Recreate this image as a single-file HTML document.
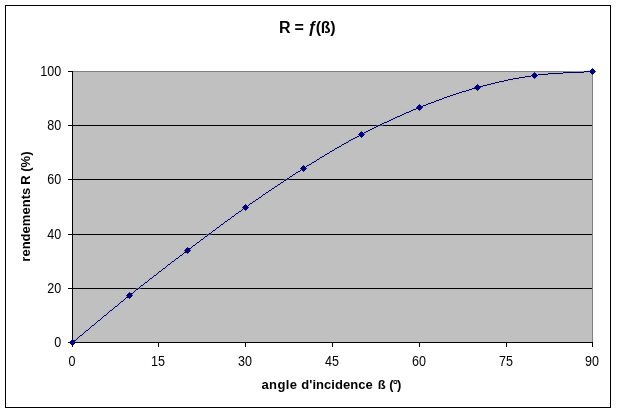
<!DOCTYPE html>
<html><head><meta charset="utf-8"><title>R = f(ß)</title>
<style>
html,body{margin:0;padding:0;background:#fff;}
body{width:617px;height:413px;overflow:hidden;font-family:"Liberation Sans",sans-serif;}
svg{display:block;will-change:transform;}
text{font-family:"Liberation Sans",sans-serif;fill:#000;}
.t{font-size:14.1px;}
.b{font-size:13px;font-weight:bold;}
</style></head><body>
<svg width="617" height="413" viewBox="0 0 617 413">
<rect x="0" y="0" width="617" height="413" fill="#fff"/>
<rect x="5.5" y="5.5" width="605" height="402" fill="#fff" stroke="#000" stroke-width="1" shape-rendering="crispEdges"/>
<rect x="72.5" y="71.5" width="520" height="271" fill="#c0c0c0" stroke="#808080" stroke-width="1" shape-rendering="crispEdges"/>
<g stroke="#000" stroke-width="1" shape-rendering="crispEdges">
<line x1="68" y1="342.5" x2="73" y2="342.5"/>
<line x1="72" y1="288.5" x2="592" y2="288.5"/>
<line x1="68" y1="288.5" x2="73" y2="288.5"/>
<line x1="72" y1="234.5" x2="592" y2="234.5"/>
<line x1="68" y1="234.5" x2="73" y2="234.5"/>
<line x1="72" y1="179.5" x2="592" y2="179.5"/>
<line x1="68" y1="179.5" x2="73" y2="179.5"/>
<line x1="72" y1="125.5" x2="592" y2="125.5"/>
<line x1="68" y1="125.5" x2="73" y2="125.5"/>
<line x1="68" y1="71.5" x2="73" y2="71.5"/>
<line x1="72.5" y1="71" x2="72.5" y2="343"/>
<line x1="72" y1="342.5" x2="593" y2="342.5"/>
<line x1="72.5" y1="342" x2="72.5" y2="347"/>
<line x1="158.5" y1="342" x2="158.5" y2="347"/>
<line x1="245.5" y1="342" x2="245.5" y2="347"/>
<line x1="332.5" y1="342" x2="332.5" y2="347"/>
<line x1="419.5" y1="342" x2="419.5" y2="347"/>
<line x1="506.5" y1="342" x2="506.5" y2="347"/>
<line x1="592.5" y1="342" x2="592.5" y2="347"/>
</g>
<path d="M72.5 342.5C91.50 326.83 110.33 310.83 129.5 295.5C148.67 280.17 168.17 265.17 187.5 250.5C206.83 235.83 226.17 221.17 245.5 207.5C264.83 193.83 284.17 180.67 303.5 168.5C322.83 156.33 342.17 144.67 361.5 134.5C380.83 124.33 400.17 115.33 419.5 107.5C438.83 99.67 458.33 92.83 477.5 87.5C496.67 82.17 515.33 78.17 534.5 75.5C553.67 72.83 573.17 72.83 592.5 71.5" fill="none" stroke="#b0b0e0" stroke-opacity="0.45" stroke-width="3"/>
<g fill="#04044c" shape-rendering="crispEdges">
<path d="M72 342h1v1h-1zM73 341h1v1h-1zM74 340h2v1h-2zM76 339h1v1h-1zM77 338h1v1h-1zM78 337h1v1h-1zM79 336h1v1h-1zM80 335h2v1h-2zM82 334h1v1h-1zM83 333h1v1h-1zM84 332h1v1h-1zM85 331h1v1h-1zM86 330h2v1h-2zM88 329h1v1h-1zM89 328h1v1h-1zM90 327h1v1h-1zM91 326h1v1h-1zM92 325h2v1h-2zM94 324h1v1h-1zM95 323h1v1h-1zM96 322h1v1h-1zM97 321h1v1h-1zM98 320h2v1h-2zM100 319h1v1h-1zM101 318h1v1h-1zM102 317h1v1h-1zM103 316h1v1h-1zM104 315h2v1h-2zM106 314h1v1h-1zM107 313h1v1h-1zM108 312h1v1h-1zM109 311h1v1h-1zM110 310h2v1h-2zM112 309h1v1h-1zM113 308h1v1h-1zM114 307h1v1h-1zM115 306h2v1h-2zM117 305h1v1h-1zM118 304h1v1h-1zM119 303h1v1h-1zM120 302h1v1h-1zM121 301h2v1h-2zM123 300h1v1h-1zM124 299h1v1h-1zM125 298h1v1h-1zM126 297h2v1h-2zM128 296h1v1h-1zM129 295h1v1h-1zM130 294h1v1h-1zM131 293h2v1h-2zM133 292h1v1h-1zM134 291h1v1h-1zM135 290h1v1h-1zM136 289h2v1h-2zM138 288h1v1h-1zM139 287h1v1h-1zM140 286h1v1h-1zM141 285h2v1h-2zM143 284h1v1h-1zM144 283h1v1h-1zM145 282h2v1h-2zM147 281h1v1h-1zM148 280h1v1h-1zM149 279h1v1h-1zM150 278h2v1h-2zM152 277h1v1h-1zM153 276h1v1h-1zM154 275h2v1h-2zM156 274h1v1h-1zM157 273h1v1h-1zM158 272h1v1h-1zM159 271h2v1h-2zM161 270h1v1h-1zM162 269h1v1h-1zM163 268h2v1h-2zM165 267h1v1h-1zM166 266h1v1h-1zM167 265h1v1h-1zM168 264h2v1h-2zM170 263h1v1h-1zM171 262h1v1h-1zM172 261h2v1h-2zM174 260h1v1h-1zM175 259h1v1h-1zM176 258h2v1h-2zM178 257h1v1h-1zM179 256h1v1h-1zM180 255h2v1h-2zM182 254h1v1h-1zM183 253h1v1h-1zM184 252h2v1h-2zM186 251h1v1h-1zM187 250h1v1h-1zM188 249h1v1h-1zM189 248h2v1h-2zM191 247h1v1h-1zM192 246h1v1h-1zM193 245h2v1h-2zM195 244h1v1h-1zM196 243h1v1h-1zM197 242h2v1h-2zM199 241h1v1h-1zM200 240h1v1h-1zM201 239h2v1h-2zM203 238h1v1h-1zM204 237h1v1h-1zM205 236h2v1h-2zM207 235h1v1h-1zM208 234h1v1h-1zM209 233h2v1h-2zM211 232h1v1h-1zM212 231h1v1h-1zM213 230h2v1h-2zM215 229h1v1h-1zM216 228h1v1h-1zM217 227h2v1h-2zM219 226h1v1h-1zM220 225h1v1h-1zM221 224h2v1h-2zM223 223h1v1h-1zM224 222h1v1h-1zM225 221h2v1h-2zM227 220h1v1h-1zM228 219h2v1h-2zM230 218h1v1h-1zM231 217h1v1h-1zM232 216h2v1h-2zM234 215h1v1h-1zM235 214h1v1h-1zM236 213h2v1h-2zM238 212h1v1h-1zM239 211h2v1h-2zM241 210h1v1h-1zM242 209h1v1h-1zM243 208h2v1h-2zM245 207h1v1h-1zM246 206h2v1h-2zM248 205h1v1h-1zM249 204h1v1h-1zM250 203h2v1h-2zM252 202h1v1h-1zM253 201h2v1h-2zM255 200h1v1h-1zM256 199h2v1h-2zM258 198h1v1h-1zM259 197h2v1h-2zM261 196h1v1h-1zM262 195h1v1h-1zM263 194h2v1h-2zM265 193h1v1h-1zM266 192h2v1h-2zM268 191h1v1h-1zM269 190h2v1h-2zM271 189h1v1h-1zM272 188h2v1h-2zM274 187h1v1h-1zM275 186h2v1h-2zM277 185h1v1h-1zM278 184h2v1h-2zM280 183h1v1h-1zM281 182h2v1h-2zM283 181h1v1h-1zM284 180h2v1h-2zM286 179h1v1h-1zM287 178h2v1h-2zM289 177h1v1h-1zM290 176h2v1h-2zM292 175h1v1h-1zM293 174h2v1h-2zM295 173h1v1h-1zM296 172h2v1h-2zM298 171h2v1h-2zM300 170h1v1h-1zM301 169h2v1h-2zM303 168h1v1h-1zM304 167h2v1h-2zM306 166h1v1h-1zM307 165h2v1h-2zM309 164h2v1h-2zM311 163h1v1h-1zM312 162h2v1h-2zM314 161h2v1h-2zM316 160h1v1h-1zM317 159h2v1h-2zM319 158h1v1h-1zM320 157h2v1h-2zM322 156h2v1h-2zM324 155h1v1h-1zM325 154h2v1h-2zM327 153h2v1h-2zM329 152h1v1h-1zM330 151h2v1h-2zM332 150h2v1h-2zM334 149h1v1h-1zM335 148h2v1h-2zM337 147h2v1h-2zM339 146h2v1h-2zM341 145h1v1h-1zM342 144h2v1h-2zM344 143h2v1h-2zM346 142h2v1h-2zM348 141h1v1h-1zM349 140h2v1h-2zM351 139h2v1h-2zM353 138h2v1h-2zM355 137h2v1h-2zM357 136h2v1h-2zM359 135h2v1h-2zM361 134h1v1h-1zM362 133h2v1h-2zM364 132h2v1h-2zM366 131h2v1h-2zM368 130h2v1h-2zM370 129h2v1h-2zM372 128h2v1h-2zM374 127h2v1h-2zM376 126h2v1h-2zM378 125h2v1h-2zM380 124h2v1h-2zM382 123h2v1h-2zM384 122h3v1h-3zM387 121h2v1h-2zM389 120h2v1h-2zM391 119h2v1h-2zM393 118h2v1h-2zM395 117h2v1h-2zM397 116h3v1h-3zM400 115h2v1h-2zM402 114h2v1h-2zM404 113h2v1h-2zM406 112h3v1h-3zM409 111h2v1h-2zM411 110h2v1h-2zM413 109h3v1h-3zM416 108h2v1h-2zM418 107h3v1h-3zM421 106h2v1h-2zM423 105h3v1h-3zM426 104h2v1h-2zM428 103h3v1h-3zM431 102h3v1h-3zM434 101h2v1h-2zM436 100h3v1h-3zM439 99h3v1h-3zM442 98h2v1h-2zM444 97h3v1h-3zM447 96h3v1h-3zM450 95h3v1h-3zM453 94h3v1h-3zM456 93h3v1h-3zM459 92h3v1h-3zM462 91h4v1h-4zM466 90h3v1h-3zM469 89h3v1h-3zM472 88h4v1h-4zM476 87h3v1h-3zM479 86h4v1h-4zM483 85h4v1h-4zM487 84h4v1h-4zM491 83h4v1h-4zM495 82h4v1h-4zM499 81h5v1h-5zM504 80h4v1h-4zM508 79h5v1h-5zM513 78h6v1h-6zM519 77h6v1h-6zM525 76h6v1h-6zM531 75h7v1h-7zM538 74h10v1h-10zM548 73h15v1h-15zM563 72h21v1h-21zM584 71h9v1h-9z"/>
</g>
<g fill="#000080" shape-rendering="crispEdges">
<path d="M71 340h3v1h-3zM70 341h5v1h-5zM70 342h5v1h-5zM70 343h5v1h-5zM71 344h3v1h-3z"/>
<path d="M69 342h1v1h-1zM75 342h1v1h-1zM72 339h1v1h-1zM72 345h1v1h-1z" fill-opacity="0.8"/>
<path d="M128 293h3v1h-3zM127 294h5v1h-5zM127 295h5v1h-5zM127 296h5v1h-5zM128 297h3v1h-3z"/>
<path d="M126 295h1v1h-1zM132 295h1v1h-1zM129 292h1v1h-1zM129 298h1v1h-1z" fill-opacity="0.8"/>
<path d="M186 248h3v1h-3zM185 249h5v1h-5zM185 250h5v1h-5zM185 251h5v1h-5zM186 252h3v1h-3z"/>
<path d="M184 250h1v1h-1zM190 250h1v1h-1zM187 247h1v1h-1zM187 253h1v1h-1z" fill-opacity="0.8"/>
<path d="M244 205h3v1h-3zM243 206h5v1h-5zM243 207h5v1h-5zM243 208h5v1h-5zM244 209h3v1h-3z"/>
<path d="M242 207h1v1h-1zM248 207h1v1h-1zM245 204h1v1h-1zM245 210h1v1h-1z" fill-opacity="0.8"/>
<path d="M302 166h3v1h-3zM301 167h5v1h-5zM301 168h5v1h-5zM301 169h5v1h-5zM302 170h3v1h-3z"/>
<path d="M300 168h1v1h-1zM306 168h1v1h-1zM303 165h1v1h-1zM303 171h1v1h-1z" fill-opacity="0.8"/>
<path d="M360 132h3v1h-3zM359 133h5v1h-5zM359 134h5v1h-5zM359 135h5v1h-5zM360 136h3v1h-3z"/>
<path d="M358 134h1v1h-1zM364 134h1v1h-1zM361 131h1v1h-1zM361 137h1v1h-1z" fill-opacity="0.8"/>
<path d="M418 105h3v1h-3zM417 106h5v1h-5zM417 107h5v1h-5zM417 108h5v1h-5zM418 109h3v1h-3z"/>
<path d="M416 107h1v1h-1zM422 107h1v1h-1zM419 104h1v1h-1zM419 110h1v1h-1z" fill-opacity="0.8"/>
<path d="M476 85h3v1h-3zM475 86h5v1h-5zM475 87h5v1h-5zM475 88h5v1h-5zM476 89h3v1h-3z"/>
<path d="M474 87h1v1h-1zM480 87h1v1h-1zM477 84h1v1h-1zM477 90h1v1h-1z" fill-opacity="0.8"/>
<path d="M533 73h3v1h-3zM532 74h5v1h-5zM532 75h5v1h-5zM532 76h5v1h-5zM533 77h3v1h-3z"/>
<path d="M531 75h1v1h-1zM537 75h1v1h-1zM534 72h1v1h-1zM534 78h1v1h-1z" fill-opacity="0.8"/>
<path d="M591 69h3v1h-3zM590 70h5v1h-5zM590 71h5v1h-5zM590 72h5v1h-5zM591 73h3v1h-3z"/>
<path d="M589 71h1v1h-1zM595 71h1v1h-1zM592 68h1v1h-1zM592 74h1v1h-1z" fill-opacity="0.8"/>
</g>
<text class="t" transform="translate(61.2,346.9) scale(0.89,1)" text-anchor="end">0</text>
<text class="t" transform="translate(61.2,292.9) scale(0.89,1)" text-anchor="end">20</text>
<text class="t" transform="translate(61.2,238.9) scale(0.89,1)" text-anchor="end">40</text>
<text class="t" transform="translate(61.2,183.9) scale(0.89,1)" text-anchor="end">60</text>
<text class="t" transform="translate(61.2,129.9) scale(0.89,1)" text-anchor="end">80</text>
<text class="t" transform="translate(61.2,75.9) scale(0.89,1)" text-anchor="end">100</text>
<text class="t" transform="translate(71.9,365.9) scale(0.89,1)" text-anchor="middle">0</text>
<text class="t" transform="translate(157.9,365.9) scale(0.89,1)" text-anchor="middle">15</text>
<text class="t" transform="translate(244.9,365.9) scale(0.89,1)" text-anchor="middle">30</text>
<text class="t" transform="translate(331.9,365.9) scale(0.89,1)" text-anchor="middle">45</text>
<text class="t" transform="translate(418.9,365.9) scale(0.89,1)" text-anchor="middle">60</text>
<text class="t" transform="translate(505.9,365.9) scale(0.89,1)" text-anchor="middle">75</text>
<text class="t" transform="translate(591.9,365.9) scale(0.89,1)" text-anchor="middle">90</text>
<text x="279.1" y="33" style="font-size:16px;font-weight:bold;" letter-spacing="-0.25">R = ƒ<tspan dx="-0.8">(ß)</tspan></text>
<text class="b" x="261.44" y="389" xml:space="preserve"><tspan letter-spacing="0.4">angle</tspan><tspan dx="0.2" letter-spacing="0.05"> d'incidence</tspan><tspan dx="1.3" letter-spacing="0.11"> ß</tspan><tspan dx="0.7" letter-spacing="-0.9"> (°)</tspan></text>
<text class="b" transform="translate(30.3,261.7) rotate(-90)" xml:space="preserve"><tspan letter-spacing="0.025">rendements</tspan><tspan dx="-0.65" letter-spacing="0.08"> R</tspan><tspan dx="-0.3" letter-spacing="0.08"> (%)</tspan></text>
</svg>
</body></html>
